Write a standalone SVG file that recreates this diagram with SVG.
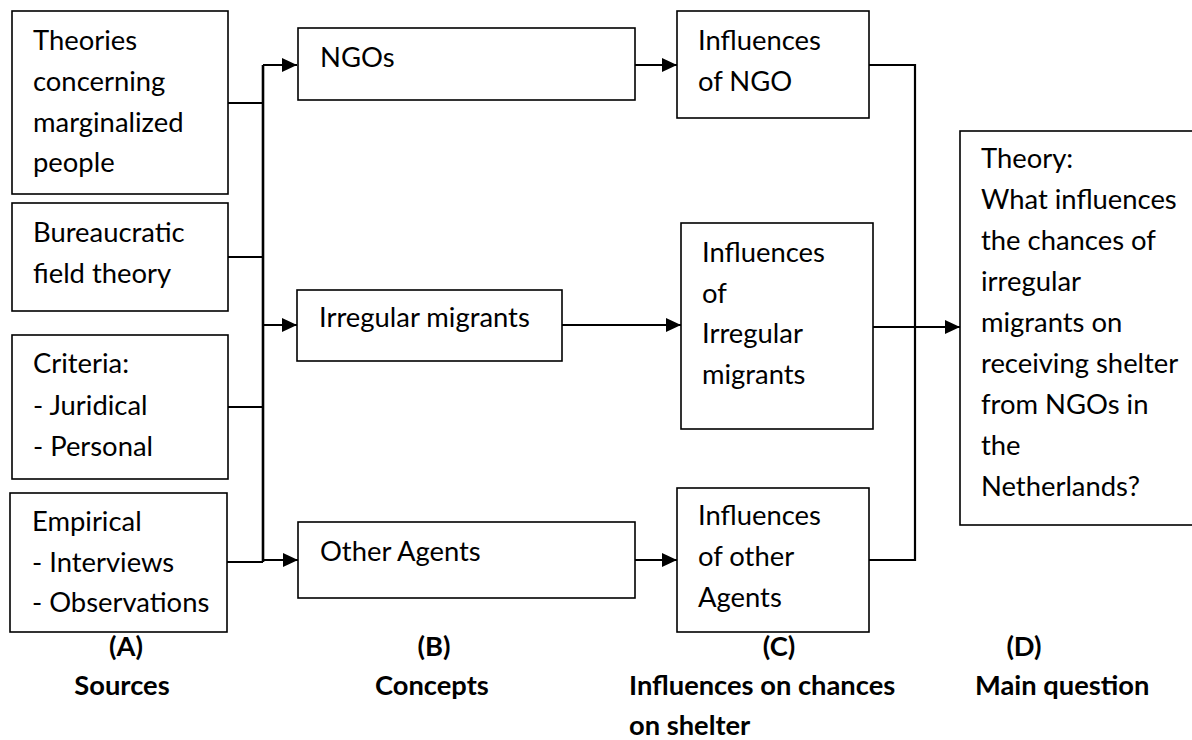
<svg xmlns="http://www.w3.org/2000/svg" width="1192" height="740" viewBox="0 0 1192 740">
<defs>
<style>
.box{fill:#fff;stroke:#000;stroke-width:1.6}
.t{font-family:Lato,"Liberation Sans",sans-serif;font-size:27.4px;fill:#000}
.b{font-family:Lato,"Liberation Sans",sans-serif;font-size:27.3px;font-weight:bold;fill:#000}
.c{fill:none;stroke:#000;stroke-width:2.2}
</style>
<marker id="ah" markerWidth="16" markerHeight="14" refX="15" refY="7" orient="auto" markerUnits="userSpaceOnUse">
<path d="M0,0 L15,7 L0,14 Z" fill="#000"/>
</marker>
</defs>
<rect width="1192" height="740" fill="#fff"/>

<g id="connectors">
<path class="c" d="M228,103 H263"/>
<path class="c" d="M228,257 H263"/>
<path class="c" d="M228,407 H263"/>
<path class="c" d="M227,562 H263"/>
<path class="c" style="stroke-width:2.6" d="M263,65 V562"/>
<path class="c" d="M263,65 H297" marker-end="url(#ah)"/>
<path class="c" d="M263,325 H297" marker-end="url(#ah)"/>
<path class="c" d="M263,560 H298" marker-end="url(#ah)"/>
<path class="c" d="M635,65 H677" marker-end="url(#ah)"/>
<path class="c" d="M562,325 H681" marker-end="url(#ah)"/>
<path class="c" d="M635,560 H677" marker-end="url(#ah)"/>
<path class="c" d="M869,65 H915 V560 H869"/>
<path class="c" d="M873,327 H960" marker-end="url(#ah)"/>
</g>

<g id="n-theories">
<rect class="box" x="12" y="11" width="216" height="183"/>
<text class="t" x="33" y="50">Theories</text>
<text class="t" x="33" y="91">concerning</text>
<text class="t" x="33" y="132">marginalized</text>
<text class="t" x="33" y="172">people</text>
</g>
<g id="n-bureau">
<rect class="box" x="12" y="203" width="216" height="108"/>
<text class="t" x="33" y="242">Bureaucratic</text>
<text class="t" x="33" y="283">field theory</text>
</g>
<g id="n-criteria">
<rect class="box" x="12" y="335" width="216" height="144"/>
<text class="t" x="33" y="373">Criteria:</text>
<text class="t" x="33" y="415">- Juridical</text>
<text class="t" x="33" y="456">- Personal</text>
</g>
<g id="n-empirical">
<rect class="box" x="10" y="493" width="217" height="139"/>
<text class="t" x="32" y="531">Empirical</text>
<text class="t" x="32" y="572">- Interviews</text>
<text class="t" x="32" y="612">- Observations</text>
</g>

<g id="n-ngos">
<rect class="box" x="298" y="28" width="337" height="72"/>
<text class="t" x="320" y="67">NGOs</text>
</g>
<g id="n-irregular">
<rect class="box" x="297" y="290" width="265" height="71"/>
<text class="t" x="319" y="327">Irregular migrants</text>
</g>
<g id="n-other">
<rect class="box" x="298" y="522" width="337" height="76"/>
<text class="t" x="320" y="561">Other Agents</text>
</g>

<g id="n-infl-ngo">
<rect class="box" x="677" y="11" width="192" height="107"/>
<text class="t" x="698" y="50">Influences</text>
<text class="t" x="698" y="91">of NGO</text>
</g>
<g id="n-infl-irr">
<rect class="box" x="681" y="223" width="192" height="206"/>
<text class="t" x="702" y="262">Influences</text>
<text class="t" x="702" y="303">of</text>
<text class="t" x="702" y="343">Irregular</text>
<text class="t" x="702" y="384">migrants</text>
</g>
<g id="n-infl-other">
<rect class="box" x="677" y="488" width="192" height="144"/>
<text class="t" x="698" y="525">Influences</text>
<text class="t" x="698" y="566">of other</text>
<text class="t" x="698" y="607">Agents</text>
</g>

<g id="n-main">
<rect class="box" x="960" y="131" width="260" height="394"/>
<text class="t" x="981" y="168">Theory:</text>
<text class="t" x="981" y="209">What influences</text>
<text class="t" x="981" y="250">the chances of</text>
<text class="t" x="981" y="291">irregular</text>
<text class="t" x="981" y="332">migrants on</text>
<text class="t" x="981" y="373">receiving shelter</text>
<text class="t" x="981" y="414">from NGOs in</text>
<text class="t" x="981" y="455">the</text>
<text class="t" x="981" y="496">Netherlands?</text>
</g>

<g id="labels">
<text class="b" x="126" y="656" text-anchor="middle">(A)</text>
<text class="b" x="122" y="695" text-anchor="middle">Sources</text>
<text class="b" x="434" y="656" text-anchor="middle">(B)</text>
<text class="b" x="375" y="695">Concepts</text>
<text class="b" x="779" y="656" text-anchor="middle">(C)</text>
<text class="b" x="629" y="695">Influences on chances</text>
<text class="b" x="629" y="735">on shelter</text>
<text class="b" x="1024" y="656" text-anchor="middle">(D)</text>
<text class="b" x="975" y="695">Main question</text>
</g>
</svg>
